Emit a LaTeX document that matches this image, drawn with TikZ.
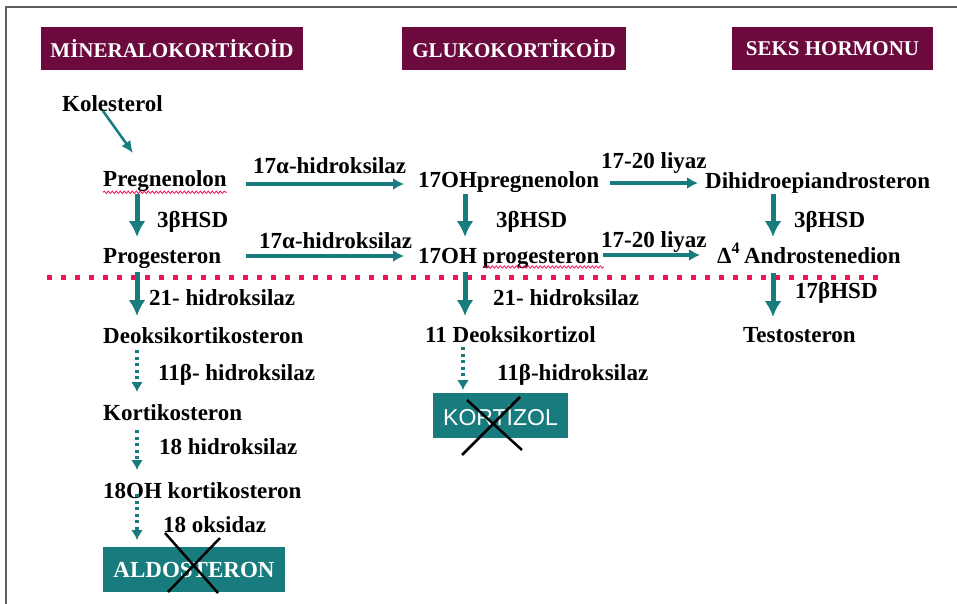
\documentclass[tikz,border=0pt]{standalone}
\usepackage{fontspec}
\setmainfont{Liberation Serif}
\setsansfont{Liberation Sans}
\usetikzlibrary{arrows.meta,decorations.pathmorphing}

\definecolor{headmaroon}{RGB}{108,10,62}
\definecolor{arrowteal}{RGB}{24,124,126}
\definecolor{cutred}{RGB}{236,22,84}
\definecolor{framegray}{RGB}{95,95,95}

\begin{document}
\begin{tikzpicture}[x=1pt, y=-1pt,
  txt/.style={anchor=base west, inner sep=0pt, font=\fontsize{23}{27}\selectfont\bfseries},
  headbox/.style={fill=headmaroon, text=white, inner sep=0pt, minimum height=43pt, font=\fontsize{21}{25}\selectfont\bfseries},
  endbox/.style={fill=arrowteal, text=white, inner sep=0pt, minimum height=45pt},
  bigarr/.style={arrowteal, line width=5pt, -{Latex[length=16pt,width=17pt]}},
  sidearr/.style={arrowteal, line width=3.5pt, -{Latex[length=11pt,width=12pt]}},
  dotarr/.style={arrowteal, line width=3.2pt, dash pattern=on 3pt off 3.5pt, -{Latex[length=10pt,width=12pt]}},
  squiggle/.style={cutred, line width=0.8pt, decorate, decoration={snake, amplitude=1.2pt, segment length=4pt}},
  crossout/.style={black, line width=2.5pt}]
  %
  \useasboundingbox (0,0) rectangle (957,604);
  \draw[framegray, line width=1.5pt] (957,7) -- (6,7) -- (6,604);
  %
  \node[headbox, minimum width=262pt] (mineral) at (172,48.5) {MİNERALOKORTİKOİD};
  \node[headbox, minimum width=224pt] (gluko) at (514,48.5) {GLUKOKORTİKOİD};
  \node[headbox, minimum width=201pt] (seks) at (832.5,48.5) {SEKS HORMONU};
  %
  \node[txt] (kol) at (62,112) {Kolesterol};
  \node[txt] (preg) at (103,186) {Pregnenolon};
  \node[txt] (ohpreg) at (418,187) {17OHpregnenolon};
  \node[txt] (dhea) at (705,188) {Dihidroepiandrosteron};
  \node[txt] (prog) at (103,263) {Progesteron};
  \node[txt] (ohprog) at (418,263) {17OH progesteron};
  \node[txt] (andro) at (717,263) {Δ\textsuperscript{4}\,Androstenedion};
  \node[txt] (doc) at (103,343) {Deoksikortikosteron};
  \node[txt] (deoxkort) at (425,342) {11 Deoksikortizol};
  \node[txt] (testo) at (743,342) {Testosteron};
  \node[txt] (kortiko) at (103,420) {Kortikosteron};
  \node[txt] (ohkortiko) at (103,498) {18OH kortikosteron};
  %
  \node[endbox, minimum width=135pt, font=\sffamily\fontsize{23}{27}\selectfont] (kortizol) at (500.5,415.5) {KORTİZOL};
  \node[endbox, minimum width=182pt, font=\fontsize{23}{27}\selectfont\bfseries] (aldo) at (194,569.5) {ALDOSTERON};
  %
  % enzymes
  \node[txt] (hyd1) at (253,174) {17α-hidroksilaz};
  \node[txt] (hyd2) at (259,248) {17α-hidroksilaz};
  \node[txt] (lya1) at (601,168) {17-20 liyaz};
  \node[txt] (lya2) at (601,247) {17-20 liyaz};
  \node[txt] (hsd1) at (157,227) {3βHSD};
  \node[txt] (hsd2) at (496,227) {3βHSD};
  \node[txt] (hsd3) at (794,227) {3βHSD};
  \node[txt] (h21a) at (149,305) {21- hidroksilaz};
  \node[txt] (h21b) at (493,305) {21- hidroksilaz};
  \node[txt] (hsd17) at (795,298) {17βHSD};
  \node[txt] (h11a) at (158,380) {11β- hidroksilaz};
  \node[txt] (h11b) at (497,380) {11β-hidroksilaz};
  \node[txt] (h18) at (159,454) {18 hidroksilaz};
  \node[txt] (oks18) at (163,532) {18 oksidaz};
  %
  \coordinate (kolout) at (103,111);
  \coordinate (pregin) at (133,153);
  \coordinate (pregout) at (137,194);
  \coordinate (progin) at (137,237);
  \coordinate (progout) at (137,272);
  \coordinate (docin) at (137,316);
  \coordinate (docout) at (137,350);
  \coordinate (kortikoin) at (137,392);
  \coordinate (kortikoout) at (137,430);
  \coordinate (ohkortikoin) at (137,470);
  \coordinate (ohkortikoout) at (137,494);
  \coordinate (aldoin) at (137,540);
  \coordinate (ohpregout) at (465,194);
  \coordinate (ohprogin) at (465,237);
  \coordinate (ohprogout) at (465,272);
  \coordinate (deoxin) at (465,316);
  \coordinate (deoxout) at (463,347);
  \coordinate (kortizolin) at (463,390);
  \coordinate (dheaout) at (773,194);
  \coordinate (androin) at (773,237);
  \coordinate (androout) at (773,273);
  \coordinate (testoin) at (773,317);
  %
  \draw[arrowteal, line width=2.5pt, -{Latex[length=12pt,width=11pt]}] (kolout) -- (pregin);
  \draw[bigarr] (pregout) -- (progin);
  \draw[bigarr] (ohpregout) -- (ohprogin);
  \draw[bigarr] (dheaout) -- (androin);
  \draw[bigarr] (progout) -- (docin);
  \draw[bigarr] (ohprogout) -- (deoxin);
  \draw[bigarr] (androout) -- (testoin);
  %
  \draw[sidearr] (246,184) -- (404,184);
  \draw[sidearr] (246,256) -- (404,256);
  \draw[sidearr] (610,183) -- (698,183);
  \draw[sidearr] (603,255) -- (700,255);
  %
  \draw[dotarr] (docout) -- (kortikoin);
  \draw[dotarr] (kortikoout) -- (ohkortikoin);
  \draw[dotarr] (ohkortikoout) -- (aldoin);
  \draw[dotarr] (deoxout) -- (kortizolin);
  %
  \draw[cutred, line width=5pt, dash pattern=on 5pt off 9pt] (47,277) -- (884,277);
  %
  \draw[squiggle] ([yshift=-1pt]preg.south west) -- ([yshift=-1pt]preg.south east);
  \draw[squiggle] (483,267) -- (604,267);
  %
  \draw[crossout] (462,455) -- (520,397);
  \draw[crossout] (467,400) -- (522,450);
  \draw[crossout] (165,533) -- (218,593);
  \draw[crossout] (220,538) -- (168,592);
\end{tikzpicture}
\end{document}
